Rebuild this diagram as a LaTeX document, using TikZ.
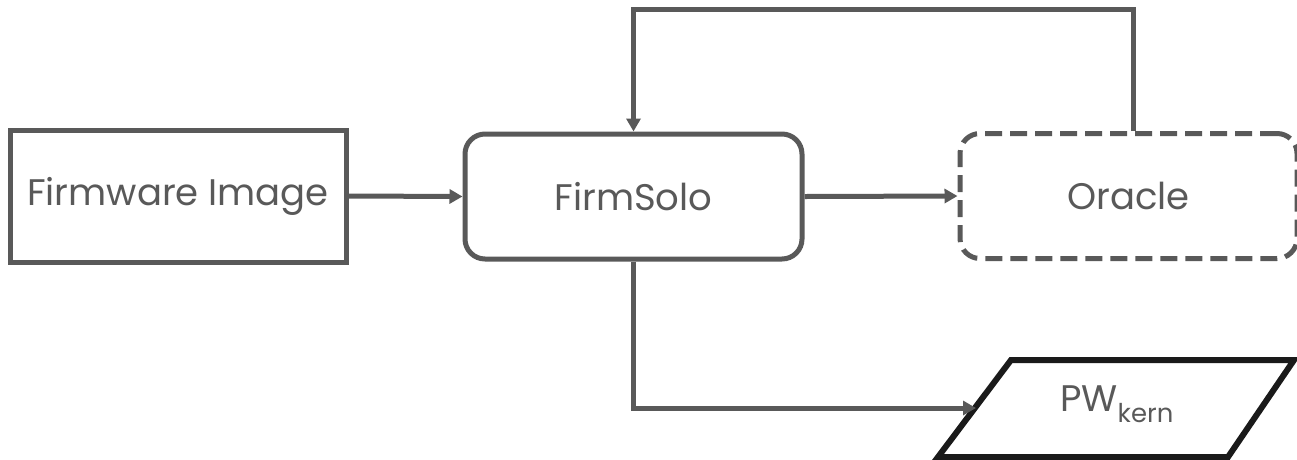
\documentclass[tikz,border=0pt]{standalone}
\usepackage{fontspec}
\setmainfont{Poppins}
\usetikzlibrary{arrows.meta}
\definecolor{ink}{HTML}{595959}
\definecolor{dark}{HTML}{1A1A1A}
\begin{document}
\begin{tikzpicture}[x=1pt,y=-1pt,
  every node/.style={text=ink,font=\fontsize{37}{42}\selectfont},
  boxline/.style={draw=ink,line width=5pt},
  plainbox/.style={boxline,rectangle,minimum width=336pt,minimum height=132pt},
  roundbox/.style={boxline,rectangle,rounded corners=20pt,minimum width=337pt,minimum height=125pt},
  dashbox/.style={roundbox,dash pattern=on 17pt off 8pt},
  dataline/.style={draw=dark,line width=6pt,line join=miter},
  arr/.style={draw=ink,line width=5pt,-{Triangle[length=13pt,width=14pt]}}
]
\useasboundingbox (0,0) rectangle (1297,459);
\node[plainbox] (fw) at (178,196) {Firmware Image};
\node[roundbox] (fs) at (633.5,196.5) {FirmSolo};
\node[dashbox] (or) at (1128.5,196) {Oracle};

% slanted data box for the kernel output
\draw[dataline] (938,457) -- (1011,360) -- (1294,360) -- (1228,457) -- cycle;
\node (pw) at (1117,404) {PW\textsubscript{kern}};
\coordinate (pwin) at (976,408);

\draw[arr] (fw.east) -- (fs.west);
\draw[arr] (fs.east) -- (or.west);
\draw[arr] ([xshift=5pt]or.north) -- ++(0,-122) -| (fs.north);
\draw[arr] (fs.south) |- (pwin);
\end{tikzpicture}
\end{document}
